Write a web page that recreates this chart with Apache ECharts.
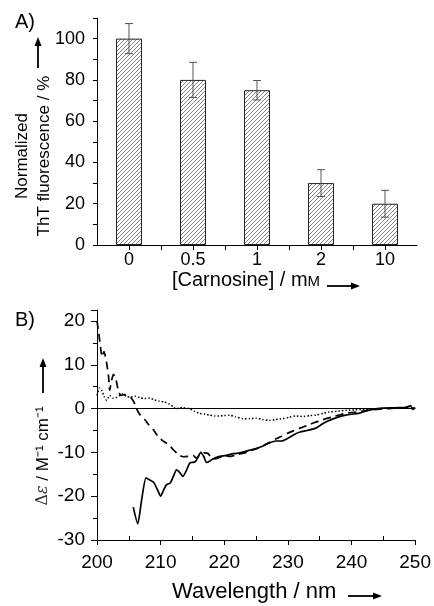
<!DOCTYPE html>
<html><head><meta charset="utf-8">
<script src="https://cdn.jsdelivr.net/npm/echarts@6/dist/echarts.min.js"></script>
<style>html,body{margin:0;padding:0;background:#fff}#c{width:434px;height:606px}</style>
</head><body><div id="c"></div>
<script>
// ---------- Panel A data ----------
const categories = ['0', '0.5', '1', '2', '10'];
const fluorescence = [100, 80, 75, 30, 20];
const fluorescenceErr = [7.3, 8.5, 4.7, 6.5, 6.5];
const yTickLabelsA = [0, 20, 40, 60, 80, 100];

// ---------- Panel B data (wavelength nm, delta epsilon) ----------
const solidX = [205.7,206.4,207.0,207.7,208.3,208.9,209.5,210.0,210.5,210.9,211.5,212.0,212.5,213.0,213.5,214.0,214.6,215.4,215.9,216.3,216.8,217.2,217.7,218.2,219.3,220.3,221.4,222.5,224.0,225.0,226.0,227.0,228.1,229.0,230.2,231.0,231.8,233.0,233.9,234.6,235.4,236.2,237.0,238.0,239.1,240.0,241.1,242.2,243.0,243.8,245.0,246.4,247.5,248.4,249.0,249.3,249.6,250.0];
const solidY = [-22.5,-26.3,-21.0,-15.8,-16.3,-16.8,-18.5,-20.0,-18.5,-17.4,-17.0,-15.5,-14.0,-14.6,-15.5,-14.3,-12.4,-12.2,-11.0,-10.0,-11.0,-12.3,-12.0,-11.5,-10.9,-10.7,-10.3,-10.1,-9.5,-9.1,-8.6,-7.9,-7.4,-7.4,-6.6,-5.9,-5.4,-5.0,-4.7,-4.3,-3.5,-2.9,-2.4,-1.9,-1.5,-1.3,-1.1,-0.6,-0.3,-0.1,0.1,0.15,0.2,0.2,0.5,0.7,-0.2,0.1];

const dashedX = [200.0,200.3,200.6,200.8,201.1,201.5,201.8,202.0,202.3,202.6,203.0,203.4,203.8,204.3,204.8,205.3,205.8,206.3,206.8,207.5,208.2,208.9,209.5,210.2,210.9,211.5,212.0,212.5,213.0,213.6,214.3,215.1,215.6,216.2,216.8,217.4,218.2,219.0,220.0,221.0,222.0,223.0,224.0,225.0,226.0,227.0,228.0,229.0,230.0,231.0,232.0,233.0,234.0,235.0,236.0,237.0,238.0,239.0,240.0,241.0,242.0,243.0,244.0,245.0,246.0,247.0,248.0,249.0,250.0];
const dashedY = [20.0,17.0,13.5,11.8,13.0,10.5,7.5,4.2,6.5,7.8,6.5,3.8,3.0,3.2,2.8,2.5,1.5,-0.3,-1.5,-2.5,-3.8,-4.9,-6.2,-7.2,-7.9,-8.6,-9.4,-10.1,-10.7,-11.0,-10.9,-10.7,-11.3,-10.5,-10.1,-10.2,-11.5,-11.3,-10.8,-10.9,-10.5,-10.2,-9.7,-9.2,-8.6,-7.8,-7.0,-6.3,-5.6,-5.0,-4.4,-3.9,-3.3,-2.8,-2.3,-1.9,-1.5,-1.1,-0.9,-0.75,-0.5,-0.3,-0.2,-0.1,0.0,0.1,0.1,0.3,0.1];

const dottedX = [200.0,200.4,200.8,201.1,201.5,202.0,202.5,203.0,203.5,204.1,204.6,205.2,206.0,206.7,207.5,208.3,209.0,209.8,210.6,211.4,212.0,212.4,213.0,213.5,214.5,215.3,216.1,217.0,217.7,218.5,219.2,220.0,220.8,221.8,222.9,224.0,225.0,226.0,227.1,228.0,229.2,230.2,231.2,232.5,233.5,234.4,235.5,236.5,237.8,239.1,240.5,241.7,243.0,244.8,246.0,247.4,248.3,249.0,249.5,250.0];
const dottedY = [3.0,4.7,4.0,2.8,1.9,3.0,2.4,2.5,2.9,3.4,2.8,2.6,2.8,2.5,2.3,2.4,2.0,1.7,1.5,1.0,0.4,-0.1,0.2,0.2,0.0,-0.6,-1.1,-1.3,-1.5,-1.7,-1.7,-1.6,-1.5,-1.9,-2.3,-2.3,-2.2,-2.5,-2.7,-2.5,-2.3,-2.0,-1.7,-1.8,-1.6,-1.5,-1.1,-0.8,-0.6,-0.4,-0.3,-0.2,-0.1,0.1,0.1,0.2,0.2,0.4,0.1,0.2];
const yTickLabelsB = [-30, -20, -10, 0, 10, 20];
const xTickLabelsB = [200, 210, 220, 230, 240, 250];

// ---------- hatch pattern ----------
const hatch = document.createElement('canvas');
hatch.width = 4; hatch.height = 4;
(function () {
  const g = hatch.getContext('2d');
  g.fillStyle = '#ffffff'; g.fillRect(0, 0, 4, 4);
  g.strokeStyle = '#666666'; g.lineWidth = 0.8;
  g.beginPath();
  g.moveTo(-1, 5); g.lineTo(5, -1);
  g.moveTo(-1, 1); g.lineTo(1, -1);
  g.moveTo(3, 5); g.lineTo(5, 3);
  g.stroke();
})();

const FONT = 'Liberation Sans, Arial, sans-serif';
const zip = (xs, ys) => xs.map((x, i) => [x, ys[i]]);

function arrow(x1, y1, x2, y2) {
  const ang = Math.atan2(y2 - y1, x2 - x1);
  const L = 9, W = 3.5;
  const bx = x2 - L * Math.cos(ang), by = y2 - L * Math.sin(ang);
  const px = -Math.sin(ang) * W, py = Math.cos(ang) * W;
  return [
    { type: 'line', shape: { x1: x1, y1: y1, x2: bx, y2: by }, style: { stroke: '#000', lineWidth: 1.8 } },
    { type: 'polygon', shape: { points: [[x2, y2], [bx + px, by + py], [bx - px, by - py]] }, style: { fill: '#000' } }
  ];
}

const axisLineStyle = { show: true, onZero: false, lineStyle: { color: '#000', width: 1 } };

const chart = echarts.init(document.getElementById('c'), null, { renderer: 'canvas' });
chart.setOption({
  animation: false,
  backgroundColor: '#fff',
  grid: [
    { left: 97, right: 17, top: 18, bottom: 361 },
    { left: 97, right: 17, top: 310, bottom: 66 }
  ],
  xAxis: [
    {
      gridIndex: 0, type: 'value', min: -0.5, max: 4.5, interval: 0.5,
      splitLine: { show: false },
      axisLine: axisLineStyle,
      axisTick: { show: true, length: 5, lineStyle: { color: '#000' } },
      axisLabel: {
        margin: 6, fontSize: 18, fontFamily: FONT, color: '#000',
        showMinLabel: false, showMaxLabel: false,
        formatter: v => (Math.abs(v - Math.round(v)) < 1e-9 && v >= 0 && v < categories.length) ? categories[Math.round(v)] : ''
      }
    },
    {
      gridIndex: 1, type: 'value', min: 200, max: 250, interval: 10,
      splitLine: { show: false },
      axisLine: axisLineStyle,
      axisTick: { show: true, length: 5, lineStyle: { color: '#000' } },
      minorTick: { show: true, splitNumber: 2, length: -4, lineStyle: { color: '#000' } },
      axisLabel: {
        margin: 13, fontSize: 19, fontFamily: FONT, color: '#000',
        formatter: v => xTickLabelsB.includes(v) ? String(v) : ''
      }
    }
  ],
  yAxis: [
    {
      gridIndex: 0, type: 'value', min: 0, max: 110, interval: 10,
      splitLine: { show: false },
      axisLine: axisLineStyle,
      axisTick: { show: true, length: 4, lineStyle: { color: '#000' } },
      axisLabel: {
        margin: 12, fontSize: 18, fontFamily: FONT, color: '#000',
        formatter: v => yTickLabelsA.includes(v) ? String(v) : ''
      }
    },
    {
      gridIndex: 1, type: 'value', min: -30, max: 22.5, interval: 10,
      splitLine: { show: false },
      axisLine: axisLineStyle,
      axisTick: { show: true, length: 6, lineStyle: { color: '#000' } },
      minorTick: { show: true, splitNumber: 2, length: 4, lineStyle: { color: '#000' } },
      axisLabel: {
        margin: 12, fontSize: 19, fontFamily: FONT, color: '#000',
        formatter: v => yTickLabelsB.includes(v) ? String(v) : ''
      }
    }
  ],
  series: [
    {
      type: 'bar', xAxisIndex: 0, yAxisIndex: 0, barWidth: 26,
      data: categories.map((c, i) => [i, fluorescence[i]]),
      itemStyle: { color: { image: hatch, repeat: 'repeat' }, borderColor: '#222', borderWidth: 1 },
      emphasis: { disabled: true }
    },
    {
      type: 'custom', xAxisIndex: 0, yAxisIndex: 0, z: 5,
      data: categories.map((c, i) => [i, fluorescence[i] - fluorescenceErr[i], fluorescence[i] + fluorescenceErr[i]]),
      renderItem: (params, api) => {
        const x = api.value(0);
        const lo = api.coord([x, api.value(1)]);
        const hi = api.coord([x, api.value(2)]);
        const c = 4;
        const st = { stroke: '#555', lineWidth: 1 };
        return {
          type: 'group', children: [
            { type: 'line', shape: { x1: lo[0], y1: lo[1], x2: hi[0], y2: hi[1] }, style: st },
            { type: 'line', shape: { x1: hi[0] - c, y1: hi[1], x2: hi[0] + c, y2: hi[1] }, style: st },
            { type: 'line', shape: { x1: lo[0] - c, y1: lo[1], x2: lo[0] + c, y2: lo[1] }, style: st }
          ]
        };
      }
    },
    {
      type: 'line', xAxisIndex: 1, yAxisIndex: 1, data: zip(solidX, solidY),
      showSymbol: false, smooth: 0.2, lineStyle: { color: '#000', width: 1.7 },
      markLine: {
        silent: true, symbol: 'none', label: { show: false },
        lineStyle: { color: '#000', width: 1, type: 'solid' },
        data: [{ yAxis: 0 }]
      }
    },
    {
      type: 'line', xAxisIndex: 1, yAxisIndex: 1, data: zip(dashedX, dashedY),
      showSymbol: false, smooth: 0.2, lineStyle: { color: '#000', width: 1.7, type: [8, 5] }
    },
    {
      type: 'line', xAxisIndex: 1, yAxisIndex: 1, data: zip(dottedX, dottedY),
      showSymbol: false, smooth: 0.2, lineStyle: { color: '#000', width: 1.5, type: [1.5, 2] }
    }
  ],
  graphic: [
    { type: 'text', left: 15, top: 12, style: { text: 'A)', font: '20px ' + FONT, fill: '#000' } },
    { type: 'text', left: 15, top: 310, style: { text: 'B)', font: '20px ' + FONT, fill: '#000' } },
    {
      type: 'text', x: 33, y: 156, rotation: Math.PI / 2,
      style: {
        text: 'Normalized\nThT fluorescence / %', font: '17px ' + FONT, fill: '#000',
        align: 'center', verticalAlign: 'middle', lineHeight: 22
      }
    },
    {
      type: 'text', x: 172, y: 280,
      style: {
        text: '[Carnosine] / m{s|M}', font: '20px ' + FONT, fill: '#000', verticalAlign: 'middle',
        rich: { s: { fontSize: 15, fontFamily: FONT, fill: '#000', padding: [3, 0, 0, 0] } }
      }
    },
    {
      type: 'text', x: 43, y: 456, rotation: Math.PI / 2,
      style: {
        text: '{g|Δ}{e|ε} / M⁻¹ cm⁻¹', font: '17px ' + FONT, fill: '#000',
        align: 'center', verticalAlign: 'middle',
        rich: {
          g: { fontSize: 16, fontFamily: 'DejaVu Serif, serif', fill: '#333' },
          e: { fontSize: 16, fontFamily: 'DejaVu Serif, serif', fontStyle: 'italic', fill: '#333' }
        }
      }
    },
    {
      type: 'text', x: 172, y: 592,
      style: { text: 'Wavelength / nm', font: '22px ' + FONT, fill: '#000', verticalAlign: 'middle' }
    },
    { type: 'group', children: arrow(38, 68, 38, 37) },
    { type: 'group', children: arrow(327, 286, 360, 286) },
    { type: 'group', children: arrow(43, 393, 43, 358) },
    { type: 'group', children: arrow(348, 596, 382, 596) }
  ]
});
</script>
</body></html>
